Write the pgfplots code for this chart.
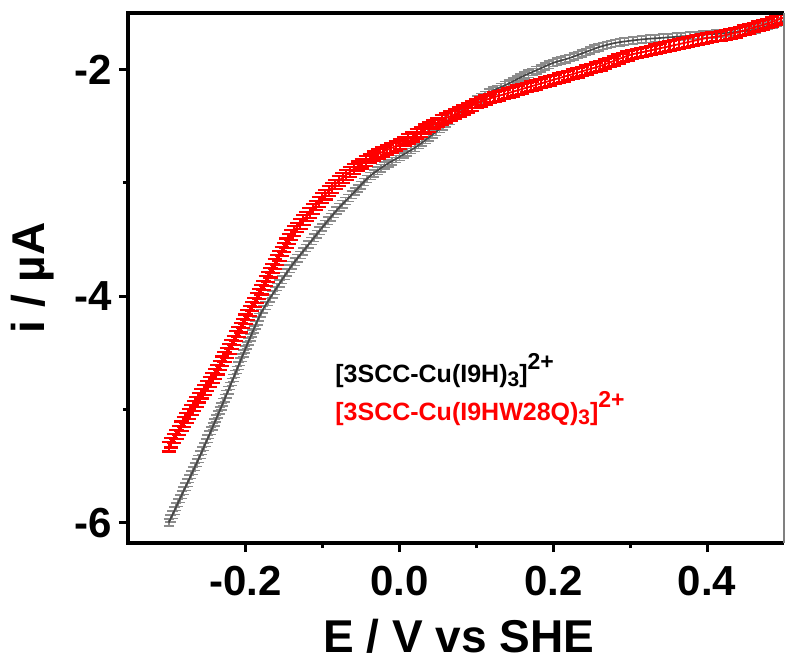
\documentclass[border=0pt]{standalone}
\usepackage{pgfplots}
\pgfplotsset{compat=1.18}
\usepackage{fontspec}
\setmainfont{Liberation Sans}
\usetikzlibrary{decorations.markings}
\definecolor{errgray}{rgb}{0.55,0.55,0.55}
\definecolor{lingray}{rgb}{0.28,0.28,0.28}
\newcommand{\lsub}[1]{\raisebox{-2pt}{\fontsize{10.5}{10.5}\selectfont #1}}
\newcommand{\lsup}[1]{\raisebox{6.5pt}{\fontsize{11.5}{11.5}\selectfont #1}}
\tikzset{
 redbars/.style={postaction={decorate}, decoration={markings, mark=between positions 0 and 1 step 2.4pt with {\pgftransformresetnontranslations \draw[red, line width=1.05pt] (-3.6pt,2.4pt)--(3.6pt,2.4pt) (0pt,2.4pt)--(0pt,-2.4pt) (-3.6pt,-2.4pt)--(3.6pt,-2.4pt);}}},
 graybars/.style={postaction={decorate}, decoration={markings, mark=between positions 0 and 1 step 2.2pt with {\pgftransformresetnontranslations \draw[errgray, line width=0.75pt] (-2.6pt,1.8pt)--(2.6pt,1.8pt) (0pt,1.8pt)--(0pt,-1.8pt) (-2.6pt,-1.8pt)--(2.6pt,-1.8pt);}}},
}
\pgfplotstableread{
x y
-0.300 -6.00
-0.280 -5.71
-0.260 -5.42
-0.240 -5.11
-0.220 -4.79
-0.200 -4.46
-0.180 -4.15
-0.160 -3.93
-0.140 -3.73
-0.120 -3.56
-0.100 -3.39
-0.080 -3.23
-0.060 -3.09
-0.040 -2.95
-0.020 -2.85
0.000 -2.77
0.020 -2.69
0.040 -2.59
0.060 -2.48
0.080 -2.37
0.100 -2.27
0.120 -2.19
0.140 -2.13
0.160 -2.06
0.180 -2.00
0.200 -1.94
0.220 -1.90
0.240 -1.85
0.260 -1.80
0.280 -1.765
0.300 -1.745
0.320 -1.73
0.340 -1.72
0.360 -1.71
0.380 -1.70
0.400 -1.69
0.420 -1.68
0.440 -1.665
0.460 -1.65
0.480 -1.61
0.500 -1.57
}\grayA
\pgfplotstableread{
x y
-0.300 -5.33
-0.280 -5.11
-0.260 -4.89
-0.240 -4.69
-0.220 -4.45
-0.200 -4.20
-0.180 -3.95
-0.160 -3.69
-0.140 -3.45
-0.120 -3.29
-0.100 -3.13
-0.080 -2.99
-0.060 -2.88
-0.040 -2.79
-0.020 -2.72
0.000 -2.66
0.020 -2.58
0.040 -2.50
0.060 -2.43
0.080 -2.37
0.100 -2.30
0.120 -2.25
0.140 -2.21
0.160 -2.17
0.180 -2.13
0.200 -2.09
0.220 -2.05
0.240 -2.01
0.260 -1.97
0.280 -1.92
0.300 -1.87
0.320 -1.84
0.340 -1.81
0.360 -1.78
0.380 -1.75
0.400 -1.72
0.420 -1.70
0.440 -1.67
0.460 -1.63
0.480 -1.59
0.500 -1.54
}\redB
\begin{document}
\begin{tikzpicture}
\begin{axis}[name=ax,
  scale only axis, width=328pt, height=265pt,
  xmin=-0.353, xmax=0.5, ymin=-6.18, ymax=-1.5,
  axis line style={draw=none},
  xtick={-0.2,0,0.2,0.4}, xticklabels={-0.2,0.0,0.2,0.4},
  ytick={-6,-4,-2}, yticklabels={-6,-4,-2},
  minor x tick num=1, minor y tick num=1,
  xtick pos=lower, ytick pos=left,
  tick align=outside,
  major tick length=4.5pt, minor tick length=2.5pt,
  every tick/.style={black, line width=1.5pt},
  tick label style={font=\fontsize{21}{21}\selectfont\bfseries},
  xticklabel style={yshift=-3.5pt},
  xlabel={E / V vs SHE}, ylabel={i / µA},
  xlabel style={at={(rel axis cs:0.504,0)}, anchor=center, yshift=-46.5pt, font=\fontsize{23}{23}\selectfont\bfseries},
  ylabel style={at={(rel axis cs:0,0.5)}, anchor=center, yshift=47.5pt, font=\fontsize{23}{23}\selectfont\bfseries},
]
\addplot[draw=none, graybars] table[x=x,y=y] {\grayA};
\addplot[lingray, line width=0.85pt, smooth] table[x=x,y=y] {\grayA};
\addplot[draw=none, redbars] table[x=x,y=y] {\redB};
\addplot[red, line width=0.9pt, smooth] table[x=x,y=y] {\redB};
\node[anchor=base west, inner sep=0pt, font=\fontsize{12.5}{12.5}\selectfont\bfseries, text=black] at (rel axis cs:0.3155,0.302) {[3SCC-Cu(I9H)\lsub{3}]\lsup{2+}};
\node[anchor=base west, inner sep=0pt, font=\fontsize{12.5}{12.5}\selectfont\bfseries, text=red] at (rel axis cs:0.3155,0.232) {[3SCC-Cu(I9HW28Q)\lsub{3}]\lsup{2+}};
\end{axis}
\draw[line width=1.6pt] (ax.north east) -- (ax.north west) -- (ax.south west) -- (ax.south east);
\draw[gray, line width=0.6pt] (ax.south east) -- (ax.north east);
\pgfresetboundingbox
\path[use as bounding box] ([xshift=-64pt,yshift=-58.5pt]ax.south west) rectangle ([xshift=0.5pt,yshift=6.5pt]ax.north east);
\end{tikzpicture}
\end{document}
